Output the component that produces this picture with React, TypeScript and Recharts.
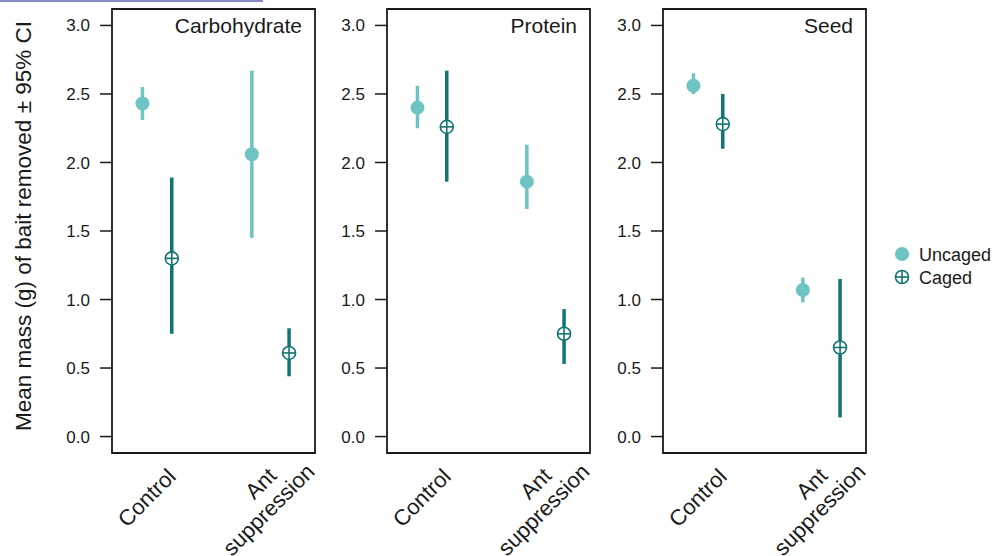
import React from 'react';
import { ScatterChart, Scatter, XAxis, YAxis, ErrorBar, ReferenceArea } from 'recharts';

const FONT = '"Liberation Sans", Arial, sans-serif';
const LIGHT = '#6ec3c3';
const DARK = '#127474';
const INK = '#1a1a1a';

// categories on a numeric axis (1 = Control, 2 = Ant suppression)
const categoryPos = [1, 2];
const categoryLabels = [['Control'], ['Ant', 'suppression']];
const uncagedOffset = [-0.13, -0.16];
const cagedOffset = [0.13, 0.17];

const yTicks = [0, 0.5, 1, 1.5, 2, 2.5, 3];

const panelTitles = ['Carbohydrate', 'Protein', 'Seed'];

// mean, lower CI, upper CI  (Control, Ant suppression)
const carbUncagedMean = [2.43, 2.06];
const carbUncagedLo = [2.31, 1.45];
const carbUncagedHi = [2.55, 2.67];
const carbCagedMean = [1.3, 0.61];
const carbCagedLo = [0.75, 0.44];
const carbCagedHi = [1.89, 0.79];

const protUncagedMean = [2.4, 1.86];
const protUncagedLo = [2.25, 1.66];
const protUncagedHi = [2.56, 2.13];
const protCagedMean = [2.26, 0.75];
const protCagedLo = [1.86, 0.53];
const protCagedHi = [2.67, 0.93];

const seedUncagedMean = [2.56, 1.07];
const seedUncagedLo = [2.5, 0.98];
const seedUncagedHi = [2.65, 1.16];
const seedCagedMean = [2.28, 0.65];
const seedCagedLo = [2.1, 0.14];
const seedCagedHi = [2.5, 1.15];

const buildSeries = (offsets: number[], mean: number[], lo: number[], hi: number[]) =>
  categoryPos.map((c, i) => ({
    x: c + offsets[i],
    y: mean[i],
    err: [mean[i] - lo[i], hi[i] - mean[i]],
  }));

const UncagedDot = ({ cx, cy }: any) => <circle cx={cx} cy={cy} r={7} fill={LIGHT} />;

const CagedDot = ({ cx, cy }: any) => (
  <g>
    <circle cx={cx} cy={cy} r={6.5} fill="#fff" stroke={DARK} strokeWidth={1.6} />
    <line x1={cx - 6.5} x2={cx + 6.5} y1={cy} y2={cy} stroke={DARK} strokeWidth={1.6} />
    <line x1={cx} x2={cx} y1={cy - 6.5} y2={cy + 6.5} stroke={DARK} strokeWidth={1.6} />
  </g>
);

const XTick = ({ x, y, payload }: any) => {
  const i = categoryPos.indexOf(payload.value);
  const lines = categoryLabels[i] || [];
  if (lines.length === 1) {
    return (
      <g transform={`translate(${x + 20},${y + 25}) rotate(-45)`}>
        <text textAnchor="end" fontSize={22} fontFamily={FONT} fill={INK}>{lines[0]}</text>
      </g>
    );
  }
  return (
    <g transform={`translate(${x + 46},${y + 20}) rotate(-45)`}>
      <text x={-30} y={-24} textAnchor="end" fontSize={22} fontFamily={FONT} fill={INK}>{lines[0]}</text>
      <text x={0} y={0} textAnchor="end" fontSize={22} fontFamily={FONT} fill={INK}>{lines[1]}</text>
    </g>
  );
};

const Panel = ({ left, title, uncaged, caged }: any) => (
  <div style={{ position: 'absolute', left, top: 0 }}>
    <ScatterChart width={320} height={556} margin={{ top: 9, right: 5, bottom: 13, left: 72 }}>
      <XAxis
        type="number"
        dataKey="x"
        domain={[0.6, 2.4]}
        ticks={categoryPos}
        allowDataOverflow
        axisLine={false}
        tickLine={false}
        tickSize={0}
        tickMargin={0}
        height={90}
        interval={0}
        tick={<XTick />}
      />
      <YAxis
        type="number"
        dataKey="y"
        domain={[-0.12, 3.12]}
        ticks={yTicks}
        allowDataOverflow
        width={40}
        axisLine={false}
        tickSize={12}
        tickMargin={10}
        tickLine={{ stroke: INK, strokeWidth: 1.5 }}
        tickFormatter={(v: number) => v.toFixed(1)}
        tick={{ fill: INK, fontSize: 17, fontFamily: FONT }}
      />
      <ReferenceArea
        x1={0.6}
        x2={2.4}
        y1={-0.12}
        y2={3.12}
        ifOverflow="visible"
        fill="none"
        stroke={INK}
        strokeWidth={1.8}
        label={(p: any) => (
          <text
            x={p.viewBox.x + p.viewBox.width - 13}
            y={p.viewBox.y + 24}
            textAnchor="end"
            fontSize={21}
            fontFamily={FONT}
            fill={INK}
          >
            {title}
          </text>
        )}
      />
      <Scatter name="Uncaged" data={uncaged} shape={<UncagedDot />} isAnimationActive={false}>
        <ErrorBar dataKey="err" direction="y" width={0} stroke={LIGHT} strokeWidth={3.5} />
      </Scatter>
      <Scatter name="Caged" data={caged} shape={<CagedDot />} isAnimationActive={false}>
        <ErrorBar dataKey="err" direction="y" width={0} stroke={DARK} strokeWidth={3.5} />
      </Scatter>
    </ScatterChart>
  </div>
);

export default function App() {
  const panels = [
    {
      left: 0,
      uncaged: buildSeries(uncagedOffset, carbUncagedMean, carbUncagedLo, carbUncagedHi),
      caged: buildSeries(cagedOffset, carbCagedMean, carbCagedLo, carbCagedHi),
    },
    {
      left: 275,
      uncaged: buildSeries(uncagedOffset, protUncagedMean, protUncagedLo, protUncagedHi),
      caged: buildSeries(cagedOffset, protCagedMean, protCagedLo, protCagedHi),
    },
    {
      left: 551,
      uncaged: buildSeries(uncagedOffset, seedUncagedMean, seedUncagedLo, seedUncagedHi),
      caged: buildSeries(cagedOffset, seedCagedMean, seedCagedLo, seedCagedHi),
    },
  ];

  return (
    <div style={{ position: 'absolute', left: 0, top: 0, width: 994, height: 556, background: '#fff', fontFamily: FONT }}>
      <div style={{ position: 'absolute', left: 0, top: 0, width: 263, height: 2, background: '#8a8ac6' }} />
      {panels.map((p, i) => (
        <Panel key={panelTitles[i]} left={p.left} title={panelTitles[i]} uncaged={p.uncaged} caged={p.caged} />
      ))}
      <svg
        width={994}
        height={556}
        style={{ position: 'absolute', left: 0, top: 0, pointerEvents: 'none' }}
      >
        <text
          transform="translate(31,226) rotate(-90)"
          textAnchor="middle"
          fontSize={22.5}
          fontFamily={FONT}
          fill={INK}
        >
          Mean mass (g) of bait removed ± 95% CI
        </text>
        <circle cx={902} cy={254} r={7} fill={LIGHT} />
        <text x={919} y={260.5} fontSize={18} fontFamily={FONT} fill={INK}>Uncaged</text>
        <circle cx={902} cy={277} r={6.5} fill="#fff" stroke={DARK} strokeWidth={1.6} />
        <line x1={895.5} x2={908.5} y1={277} y2={277} stroke={DARK} strokeWidth={1.6} />
        <line x1={902} x2={902} y1={270.5} y2={283.5} stroke={DARK} strokeWidth={1.6} />
        <text x={919} y={283.5} fontSize={18} fontFamily={FONT} fill={INK}>Caged</text>
      </svg>
    </div>
  );
}
